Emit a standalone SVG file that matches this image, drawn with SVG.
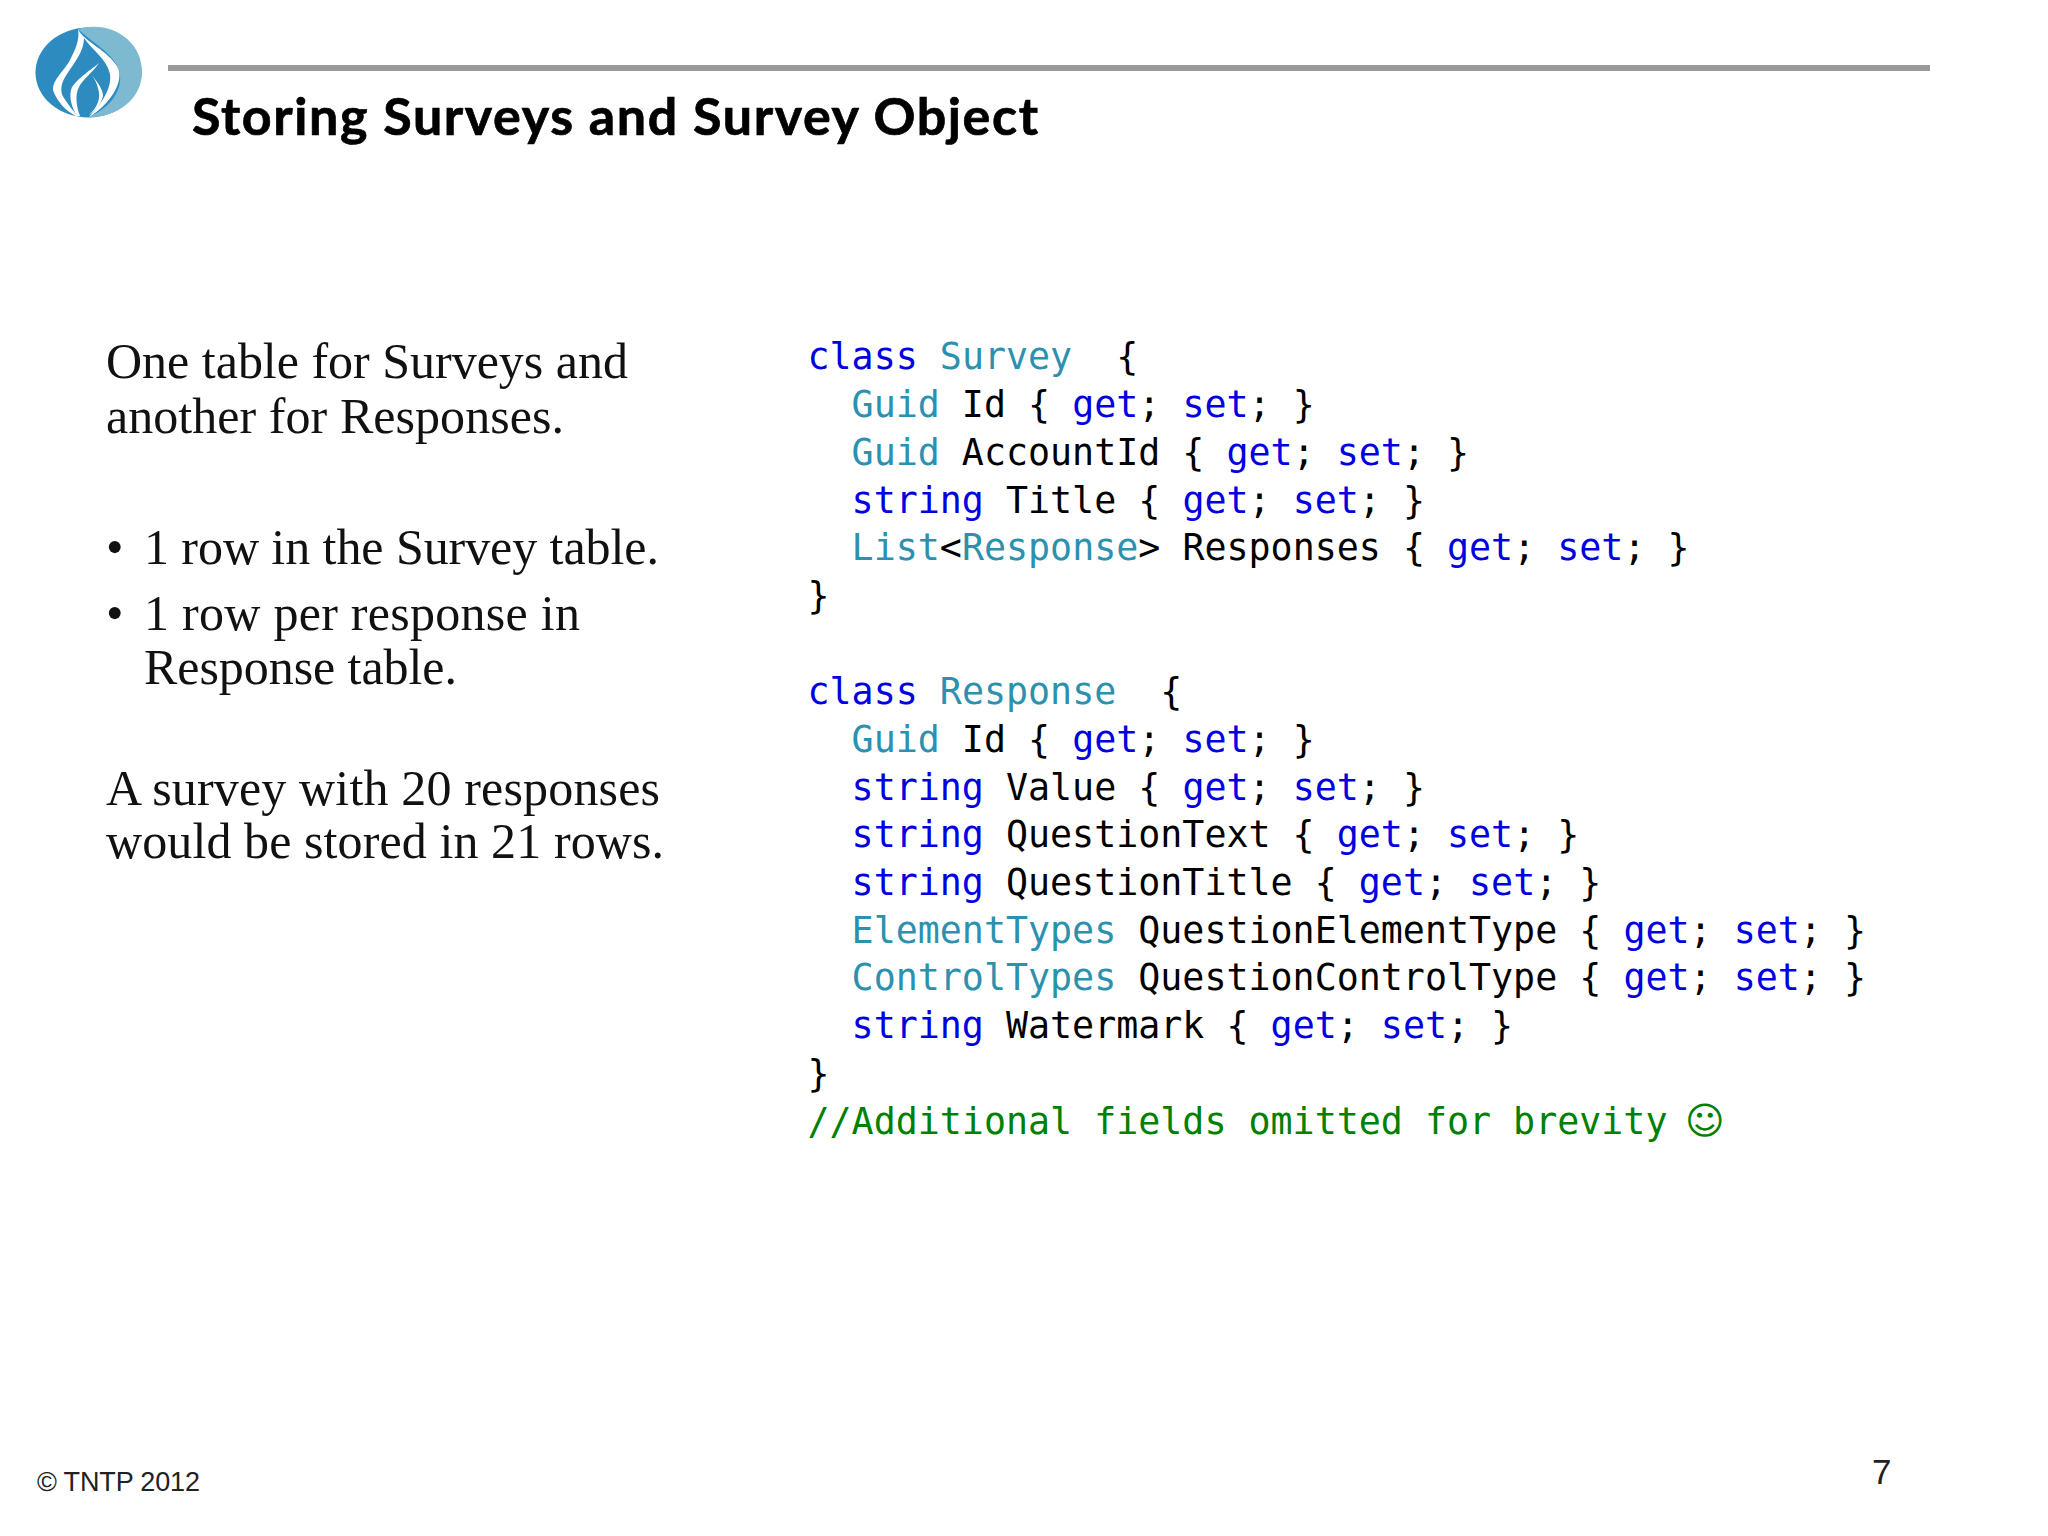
<svg xmlns="http://www.w3.org/2000/svg" width="2048" height="1536" viewBox="0 0 2048 1536">
<style>
.c{font-family:"DejaVu Sans Mono","Liberation Mono",monospace;font-size:36.63px;fill:#000;white-space:pre}
.k{fill:#0000e0}.t{fill:#2b91af}.g{fill:#008000}
.b{font-family:"Liberation Serif",serif;font-size:50px;fill:#111}
</style>
<rect width="2048" height="1536" fill="#fff"/>
<g id="logo">
<ellipse cx="88.500" cy="72.500" rx="53" ry="45" fill="#2e8bc0"/>
<path d="M78 29C110 20 142 40 142 72C142 100 115 118 89 117C105 110 122 95 120 75C117 55 95 45 78 29Z" fill="#7db9d1"/>
<path d="M78 29C84 42 108 50 118 68C125 85 105 108 89 117C100 105 112 90 110 74C106 58 92 50 84 38C84 52 73 64 67 74C60 84 60 92 64 98C68 105 74 111 78 117C66 112 56 100 53 90C52 80 65 70 70 60C75 50 80 40 78 29Z" fill="#fff"/>
<path d="M99 63C92 69 78 78 72 87C68 96 72 108 77 116L80 116C76 105 75 95 79 87C83 79 93 72 99 63ZM92 75C98 84 101 95 98 102C96 108 92 112 89 115C94 112 101 105 103 96C103 88 96 81 92 75Z" fill="#fff"/>
</g>
<rect id="rule" x="168" y="65" width="1762" height="6" fill="#999"/>
<text id="title" x="192" y="135" font-family="Lato,'Liberation Sans',sans-serif" font-weight="700" font-size="52" fill="#000" stroke="#000" stroke-width="0.7" textLength="846" lengthAdjust="spacing">Storing Surveys and Survey Object</text>
<g id="left-text" class="b">
<text x="106" y="378" class="b" textLength="522">One table for Surveys and</text>
<text x="106" y="433" class="b" textLength="458">another for Responses.</text>
<text x="106" y="564" class="b">•</text>
<text x="144" y="564" class="b" textLength="515">1 row in the Survey table.</text>
<text x="106" y="630" class="b">•</text>
<text x="144" y="630" class="b" textLength="436">1 row per response in</text>
<text x="144" y="684" class="b" textLength="313">Response table.</text>
<text x="106" y="805" class="b" textLength="554">A survey with 20 responses</text>
<text x="106" y="858" class="b" textLength="558">would be stored in 21 rows.</text>
</g>
<g id="code">
<text class="c" x="807.500" y="369"><tspan class="k">class</tspan> <tspan class="t">Survey</tspan>  {</text>
<text class="c" x="807.500" y="417">  <tspan class="t">Guid</tspan> Id { <tspan class="k">get</tspan>; <tspan class="k">set</tspan>; }</text>
<text class="c" x="807.500" y="465">  <tspan class="t">Guid</tspan> AccountId { <tspan class="k">get</tspan>; <tspan class="k">set</tspan>; }</text>
<text class="c" x="807.500" y="513">  <tspan class="k">string</tspan> Title { <tspan class="k">get</tspan>; <tspan class="k">set</tspan>; }</text>
<text class="c" x="807.500" y="560">  <tspan class="t">List</tspan>&lt;<tspan class="t">Response</tspan>&gt; Responses { <tspan class="k">get</tspan>; <tspan class="k">set</tspan>; }</text>
<text class="c" x="807.500" y="608">}</text>
<text class="c" x="807.500" y="704"><tspan class="k">class</tspan> <tspan class="t">Response</tspan>  {</text>
<text class="c" x="807.500" y="752">  <tspan class="t">Guid</tspan> Id { <tspan class="k">get</tspan>; <tspan class="k">set</tspan>; }</text>
<text class="c" x="807.500" y="800">  <tspan class="k">string</tspan> Value { <tspan class="k">get</tspan>; <tspan class="k">set</tspan>; }</text>
<text class="c" x="807.500" y="847">  <tspan class="k">string</tspan> QuestionText { <tspan class="k">get</tspan>; <tspan class="k">set</tspan>; }</text>
<text class="c" x="807.500" y="895">  <tspan class="k">string</tspan> QuestionTitle { <tspan class="k">get</tspan>; <tspan class="k">set</tspan>; }</text>
<text class="c" x="807.500" y="943">  <tspan class="t">ElementTypes</tspan> QuestionElementType { <tspan class="k">get</tspan>; <tspan class="k">set</tspan>; }</text>
<text class="c" x="807.500" y="990">  <tspan class="t">ControlTypes</tspan> QuestionControlType { <tspan class="k">get</tspan>; <tspan class="k">set</tspan>; }</text>
<text class="c" x="807.500" y="1038">  <tspan class="k">string</tspan> Watermark { <tspan class="k">get</tspan>; <tspan class="k">set</tspan>; }</text>
<text class="c" x="807.500" y="1086">}</text>
<text class="c g" x="807.500" y="1134">//Additional fields omitted for brevity</text>
<text x="1685" y="1134" font-family="'DejaVu Sans',sans-serif" font-size="38" fill="#008000">☺</text>
</g>
<text id="footer" x="37" y="1491" font-family="'Liberation Sans',sans-serif" font-size="27" fill="#222" textLength="163">© TNTP 2012</text>
<text id="page" x="1872" y="1484" font-family="'Liberation Sans',sans-serif" font-size="35" fill="#222">7</text>
</svg>
